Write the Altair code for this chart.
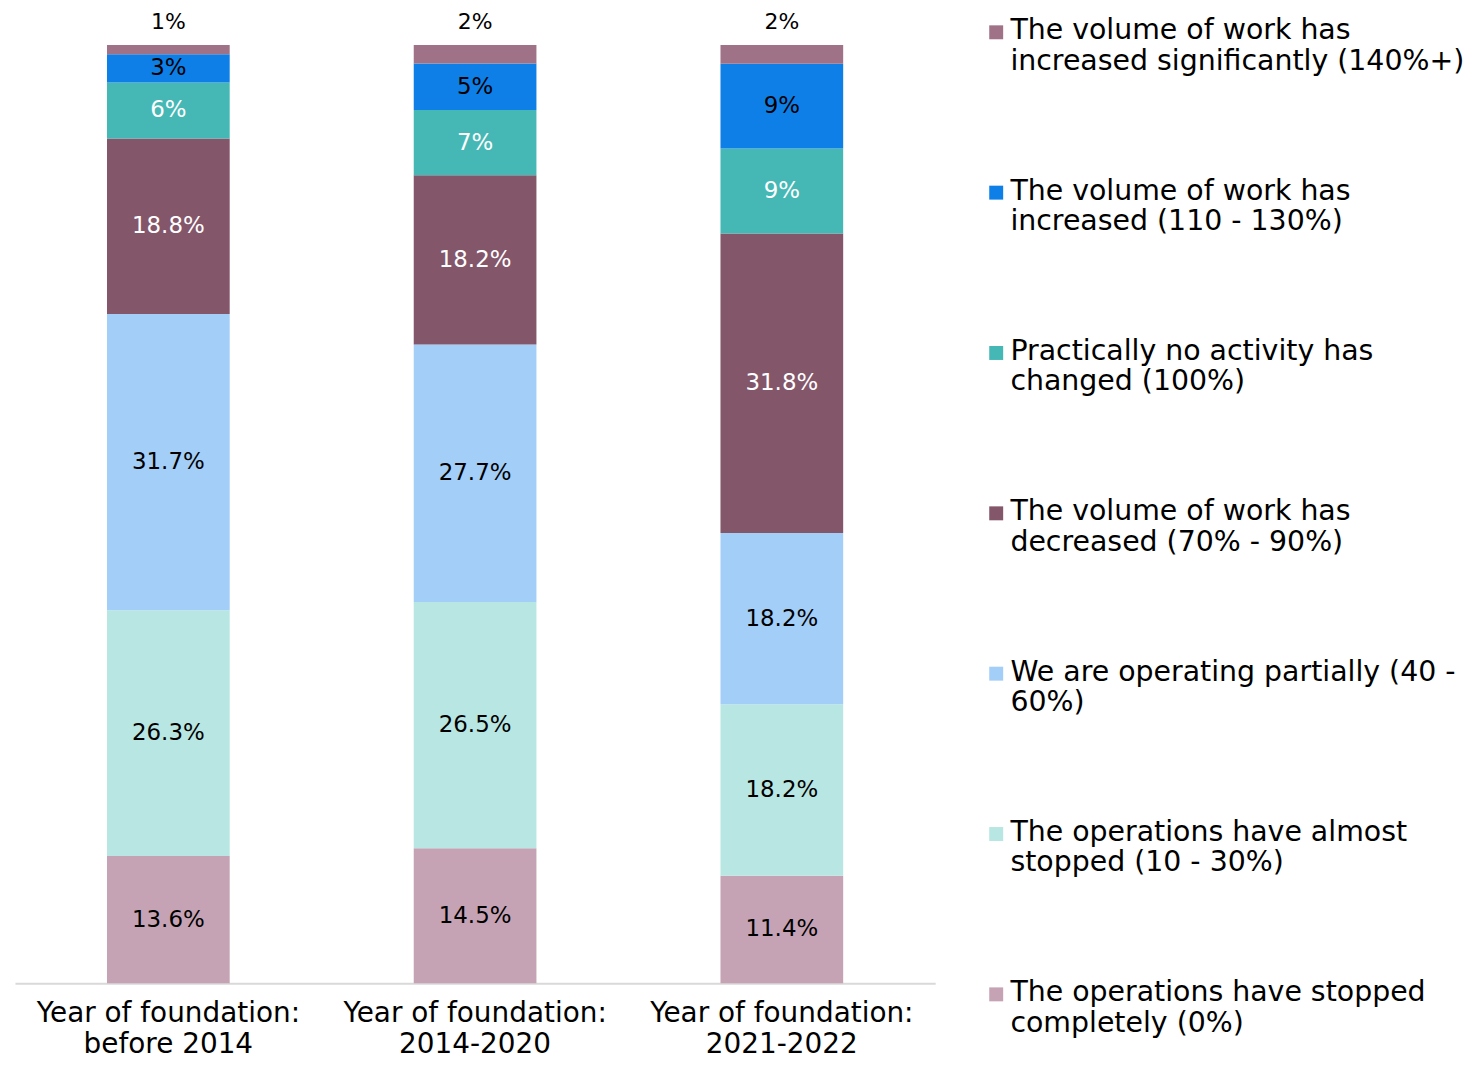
import altair as alt
import pandas as pd

groups = [
    "Year of foundation:\nbefore 2014",
    "Year of foundation:\n2014-2020",
    "Year of foundation:\n2021-2022",
]

# stack order, bottom to top
categories = [
    "The operations have stopped\ncompletely (0%)",
    "The operations have almost\nstopped (10 - 30%)",
    "We are operating partially (40 -\n60%)",
    "The volume of work has\ndecreased (70% - 90%)",
    "Practically no activity has\nchanged (100%)",
    "The volume of work has\nincreased (110 - 130%)",
    "The volume of work has\nincreased significantly (140%+)",
]
colors = ["#C6A3B4", "#B8E6E2", "#A3CEF8", "#84566A", "#45B8B5", "#0F7FE8", "#A07287"]
label_colors = ["black", "black", "black", "white", "white", "black", "black"]

before_2014 = [13.6, 26.3, 31.7, 18.8, 6, 3, 1]
y2014_2020 = [14.5, 26.5, 27.7, 18.2, 7, 5, 2]
y2021_2022 = [11.4, 18.2, 18.2, 31.8, 9, 9, 2]

rows = []
for g, vals in zip(groups, [before_2014, y2014_2020, y2021_2022]):
    for i, (c, v) in enumerate(zip(categories, vals)):
        rows.append({"group": g, "category": c, "order": i, "value": v,
                     "label": f"{v:g}%", "tc": label_colors[i]})
df = pd.DataFrame(rows)

FONT = "DejaVu Sans"
top_order = len(categories) - 1

color_scale = alt.Scale(domain=categories[::-1], range=colors[::-1])

base = alt.Chart(df).transform_stack(
    stack="value", groupby=["group"], as_=["y0", "y1"], offset="normalize",
    sort=[alt.SortField(field="order", order="ascending")],
).transform_calculate(mid="(datum.y0 + datum.y1) / 2")

x_enc = alt.X(
    "group:N", sort=groups,
    scale=alt.Scale(paddingInner=0.6, paddingOuter=0.3),
    axis=alt.Axis(title=None, labelExpr="split(datum.label, '\\n')", labelAngle=0,
                  ticks=False, domainColor="#d9d9d9", domainWidth=2,
                  labelFontSize=28, labelFont=FONT, labelColor="black",
                  labelPadding=16, labelLineHeight=32, labelLimit=400),
)
y_scale = alt.Scale(domain=[0, 1])

bars = base.mark_bar().encode(
    x=x_enc,
    y=alt.Y("y0:Q", scale=y_scale, axis=None),
    y2="y1:Q",
    color=alt.Color(
        "category:N", scale=color_scale,
        legend=alt.Legend(
            title=None, orient="none", legendX=971, legendY=-20,
            symbolType="M-1,-2H1V0H-1Z", symbolSize=196, symbolStrokeWidth=0,
            labelFontSize=28.5, labelFont=FONT, labelColor="black", labelLimit=700,
            labelExpr="split(datum.label, '\\n')", labelBaseline="alphabetic",
            rowPadding=101, labelOffset=0, padding=0,
        ),
    ),
)

inner = base.transform_filter(f"datum.order < {top_order}").mark_text(
    fontSize=23, font=FONT, baseline="middle"
).encode(
    x=alt.X("group:N", sort=groups),
    y=alt.Y("mid:Q", scale=y_scale),
    text="label:N",
    color=alt.Color("tc:N", scale=None),
)

top = base.transform_filter(f"datum.order == {top_order}").mark_text(
    fontSize=22, font=FONT, baseline="middle", dy=-23, color="black"
).encode(
    x=alt.X("group:N", sort=groups),
    y=alt.Y("y1:Q", scale=y_scale),
    text="label:N",
)

chart = alt.layer(bars, inner, top).properties(
    width=924, height=942,
    padding={"left": 7, "top": 35, "right": 540, "bottom": 75},
    autosize=alt.AutoSizeParams(type="none"),
    background="white",
).configure_view(stroke=None)

chart.save("out.html", embed_options={"renderer": "svg", "actions": False})
